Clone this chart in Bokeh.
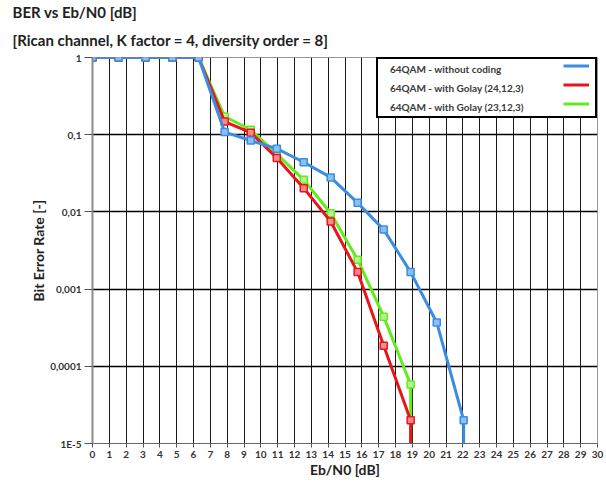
from bokeh.plotting import figure
from bokeh.models import FixedTicker, Title, Legend, LegendItem, CustomJSTickFormatter
from bokeh.embed import file_html
from bokeh.resources import INLINE

# ---- data ----
ebn0 = [0, 1.55, 3.15, 4.75, 6.3, 7.85, 9.4, 10.95, 12.55, 14.15, 15.75, 17.3, 18.9, 20.45, 22.05]
ber_uncoded = [1, 1, 1, 1, 1, 0.108, 0.084, 0.066, 0.044, 0.028, 0.0131, 0.0059, 0.00166, 0.00037, 2.0e-5]
ber_golay24 = [1, 1, 1, 1, 1, 0.148, 0.106, 0.050, 0.0203, 0.0075, 0.00166, 0.000184, 2.0e-5]
ber_golay23 = [1, 1, 1, 1, 1, 0.172, 0.116, 0.056, 0.026, 0.0096, 0.0024, 0.00044, 5.8e-5]
ber_zero = 1e-8  # BER = 0 after the last point: the curve drops off the bottom of the axis

series_names = ["64QAM - without coding", "64QAM - with Golay (24,12,3)", "64QAM - with Golay (23,12,3)"]
series_values = [ber_uncoded, ber_golay24, ber_golay23]
series_colors = ["#3a8de3", "#e8151c", "#62ec1e"]
marker_fills = ["#8cc0f2", "#f58a8d", "#b2f78e"]

x_ticks = list(range(0, 31))
y_ticks = [1e-5, 1e-4, 1e-3, 1e-2, 1e-1, 1]
y_tick_labels = ["1E-5", "0,0001", "0,001", "0,01", "0,1", "1"]

title_line1 = "BER vs Eb/N0 [dB]"
title_line2 = "[Rican channel, K factor = 4, diversity order = 8]"
x_label = "Eb/N0 [dB]"
y_label = "Bit Error Rate [-]"

FONT = "Lato"

p = figure(width=606, height=485, x_range=(0, 30), y_range=(1e-5, 1), y_axis_type="log",
           output_backend="svg", toolbar_location=None,
           min_border_left=92, min_border_right=9, min_border_top=57, min_border_bottom=42)
p.background_fill_color = "white"
p.border_fill_color = "white"
p.outline_line_color = "#999999"

# titles (second line added first so it sits nearest the plot)
t2 = Title(text=title_line2, align="left", offset=-80, text_font=FONT, text_font_style="bold",
           text_font_size="15px", text_color="#222222", standoff=17)
t1 = Title(text=title_line1, align="left", offset=-80, text_font=FONT, text_font_style="bold",
           text_font_size="15px", text_color="#222222", standoff=0)
p.add_layout(t2, "above")
p.add_layout(t1, "above")

# grid
p.xgrid.ticker = FixedTicker(ticks=x_ticks)
p.xgrid.grid_line_color = "#1a1a1a"
p.xgrid.grid_line_width = 1
p.ygrid.ticker = FixedTicker(ticks=y_ticks)
p.ygrid.grid_line_color = "#000000"
p.ygrid.grid_line_width = 1.3

# axes
p.xaxis.ticker = FixedTicker(ticks=x_ticks)
p.yaxis.ticker = FixedTicker(ticks=y_ticks)
p.yaxis.formatter = CustomJSTickFormatter(args=dict(tvals=y_ticks, tlabels=y_tick_labels), code="""
    for (let i = 0; i < tvals.length; i++) {
        if (Math.abs(Math.log10(tvals[i]) - Math.log10(tick)) < 1e-6) { return tlabels[i]; }
    }
    return "";
""")
for ax in (p.xaxis, p.yaxis):
    ax.minor_tick_line_color = None
    ax.major_tick_in = 0
    ax.major_tick_line_color = "#555555"
    ax.major_label_text_font = FONT
    ax.major_label_text_font_style = "bold"
    ax.major_label_text_font_size = "10px"
    ax.major_label_text_color = "#333333"
    ax.axis_label_text_font = FONT
    ax.axis_label_text_font_style = "bold"
    ax.axis_label_text_font_size = "14px"
    ax.axis_label_text_color = "#222222"
p.yaxis.axis_line_color = "#8a8a8a"
p.yaxis.axis_line_width = 2
p.yaxis.major_tick_out = 8
p.yaxis.major_label_standoff = 3
p.yaxis.axis_label = y_label
p.yaxis.axis_label_standoff = 0
p.xaxis.axis_line_color = "#666666"
p.xaxis.major_tick_out = 4
p.xaxis.major_label_standoff = 3
p.xaxis.axis_label = x_label
p.xaxis.axis_label_standoff = 0

# series (drawn green, red, blue so blue sits on top as in the reference)
line_renderers = [None] * 3
for i in (2, 1, 0):
    vals = series_values[i]
    n = len(vals)
    xs = ebn0[:n] + [ebn0[n - 1]]
    ys = vals + [ber_zero]
    line_renderers[i] = p.line(xs, ys, line_color=series_colors[i], line_width=3)
    p.scatter(ebn0[:n], vals, marker="square", size=7, line_color=series_colors[i],
              line_width=1.5, fill_color=marker_fills[i])

# legend: labels on the left (box) ...
dummies = [p.line(x=[], y=[], line_alpha=0) for _ in series_names]
leg_text = Legend(items=[LegendItem(label=series_names[i], renderers=[dummies[i]]) for i in range(3)],
                  location="top_right", margin=0, padding=1, spacing=2,
                  glyph_width=0, glyph_height=17, label_height=17, label_width=204, label_standoff=11,
                  border_line_color="black", border_line_width=2, border_line_alpha=1,
                  background_fill_color="white", background_fill_alpha=1,
                  label_text_font=FONT, label_text_font_style="bold", label_text_font_size="10px",
                  label_text_color="#3a3a3a")
# ... and the line icons on the right
leg_icons = Legend(items=[LegendItem(label=" ", renderers=[line_renderers[i]]) for i in range(3)],
                   location="top_right", margin=0, padding=1, spacing=2,
                   glyph_width=26, glyph_height=17, label_height=17, label_width=8, label_standoff=0,
                   border_line_color=None, background_fill_alpha=0,
                   label_text_font_size="10px")
p.add_layout(leg_text)
p.add_layout(leg_icons)

open("out.html", "w").write(file_html(p, INLINE))
